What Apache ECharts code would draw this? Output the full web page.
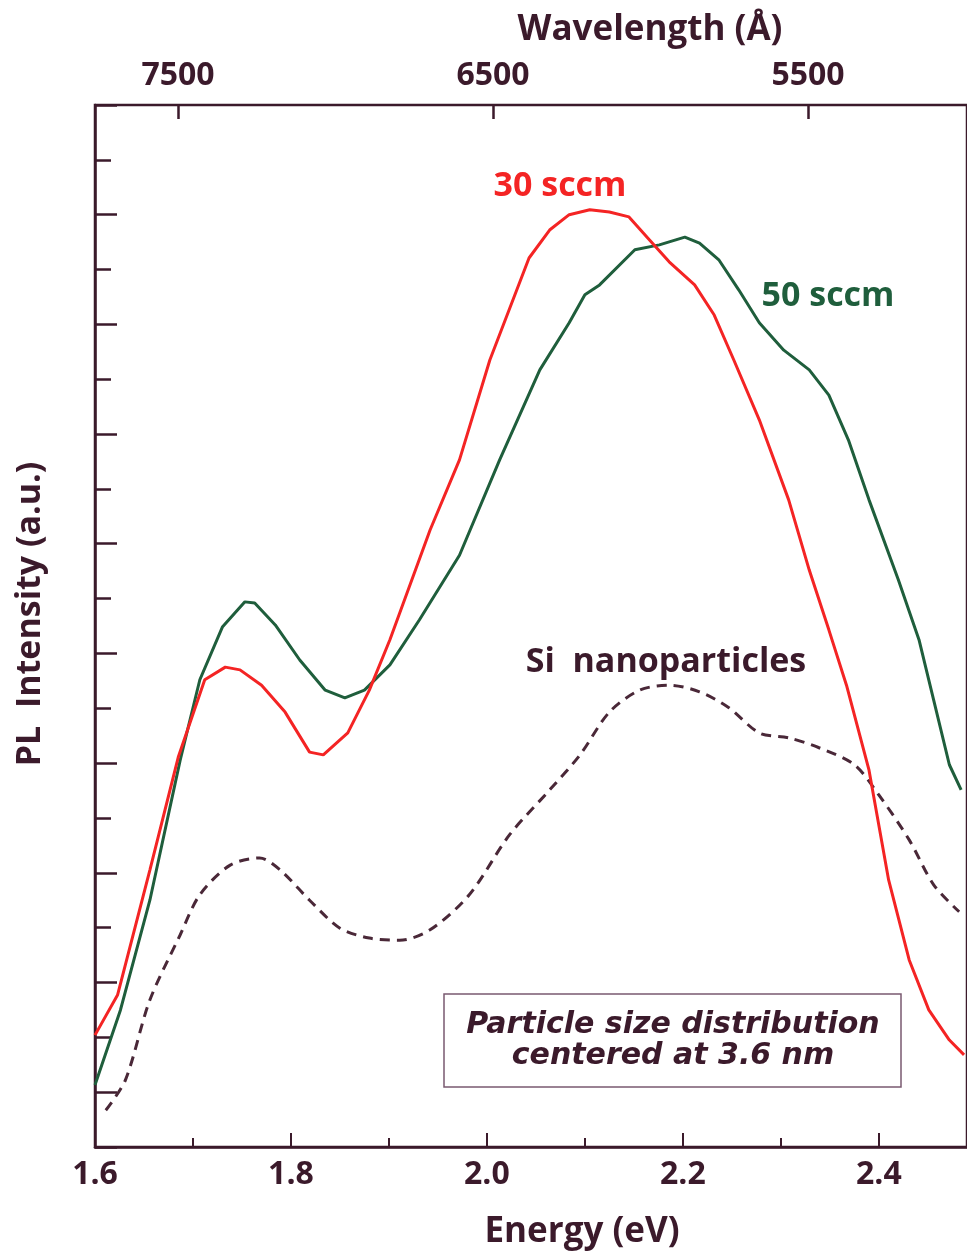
<!DOCTYPE html>
<html>
<head>
<meta charset="utf-8">
<title>PL spectra of Si nanoparticles</title>
<script src="https://cdn.jsdelivr.net/npm/echarts@6/dist/echarts.min.js"></script>
<style>
  html, body { margin: 0; padding: 0; background: #ffffff; }
  #chart { width: 967px; height: 1255px; }
</style>
</head>
<body>
<div id="chart"></div>
<script>
// Photon energy (eV) vs. PL intensity (arbitrary units)
const red30 = [
  [1.600, 2.04], [1.623, 2.77], [1.656, 5.05], [1.685, 7.11], [1.712, 8.52],
  [1.733, 8.75], [1.748, 8.70], [1.770, 8.42], [1.794, 7.93], [1.819, 7.20],
  [1.833, 7.15], [1.858, 7.55], [1.880, 8.33], [1.901, 9.25], [1.942, 11.25],
  [1.972, 12.53], [2.003, 14.35], [2.043, 16.21], [2.064, 16.72], [2.084, 17.00],
  [2.105, 17.09], [2.125, 17.05], [2.145, 16.96], [2.166, 16.54], [2.186, 16.14],
  [2.212, 15.72], [2.232, 15.17], [2.252, 14.35], [2.278, 13.26], [2.308, 11.80],
  [2.329, 10.52], [2.349, 9.43], [2.367, 8.42], [2.390, 6.87], [2.410, 4.87],
  [2.431, 3.41], [2.451, 2.50], [2.472, 1.95], [2.487, 1.68]
];
const green50 = [
  [1.600, 1.13], [1.626, 2.50], [1.656, 4.50], [1.687, 7.06], [1.707, 8.52],
  [1.730, 9.48], [1.753, 9.94], [1.763, 9.92], [1.784, 9.52], [1.809, 8.88],
  [1.835, 8.33], [1.855, 8.19], [1.875, 8.33], [1.901, 8.79], [1.931, 9.61],
  [1.972, 10.79], [2.013, 12.53], [2.054, 14.17], [2.084, 15.03], [2.100, 15.54],
  [2.115, 15.72], [2.151, 16.36], [2.176, 16.45], [2.202, 16.59], [2.217, 16.48],
  [2.237, 16.17], [2.257, 15.63], [2.278, 15.03], [2.303, 14.53], [2.329, 14.17],
  [2.349, 13.71], [2.369, 12.89], [2.390, 11.80], [2.420, 10.34], [2.441, 9.25],
  [2.456, 8.15], [2.472, 6.97], [2.484, 6.51]
];
const siNano = [
  [1.611, 0.67], [1.631, 1.22], [1.656, 2.68], [1.687, 3.87], [1.707, 4.60],
  [1.738, 5.14], [1.768, 5.27], [1.789, 5.05], [1.819, 4.50], [1.850, 3.99],
  [1.880, 3.81], [1.911, 3.77], [1.942, 3.96], [1.982, 4.60], [2.023, 5.69],
  [2.064, 6.51], [2.095, 7.15], [2.125, 7.93], [2.156, 8.33], [2.186, 8.42],
  [2.217, 8.30], [2.247, 8.01], [2.278, 7.55], [2.308, 7.46], [2.339, 7.28],
  [2.375, 6.97], [2.400, 6.42], [2.431, 5.60], [2.456, 4.78], [2.482, 4.29]
];
// Wavelength scale along the top edge
const wavelengthTicks = ['7500', '6500', '5500'];

const INK = '#3b1a2b';
const RED = '#f42424';
const GREEN = '#1f5e3c';
const FONT = '"Open Sans", "Liberation Sans", sans-serif';
const BOX_FONT = '"DejaVu Sans", Verdana, sans-serif';

const chart = echarts.init(document.getElementById('chart'), null, { renderer: 'canvas' });

chart.setOption({
  backgroundColor: '#ffffff',
  animation: false,
  grid: [
    { left: 95, top: 105, width: 874, height: 1042, show: true,
      borderColor: INK, borderWidth: 2.5, backgroundColor: 'transparent' },
    { left: 178, top: 105, width: 630, height: 1042 }
  ],
  xAxis: [
    {
      type: 'value', gridIndex: 0, position: 'bottom',
      min: 1.6, max: 2.49, interval: 0.2,
      axisLine: { show: true, onZero: false, lineStyle: { color: INK, width: 2.5 } },
      axisTick: { show: true, inside: true, length: 14, lineStyle: { color: INK, width: 2 } },
      minorTick: { show: true, splitNumber: 2, length: 9, lineStyle: { color: INK, width: 2 } },
      splitLine: { show: false },
      axisLabel: {
        show: true, margin: 12, color: INK, fontFamily: FONT, fontWeight: 'bold', fontSize: 32,
        showMaxLabel: false,
        formatter: v => v.toFixed(1)
      }
    },
    {
      type: 'category', gridIndex: 1, position: 'top',
      data: wavelengthTicks, boundaryGap: false,
      axisLine: { show: false, onZero: false },
      axisTick: { show: true, inside: true, length: 14, alignWithLabel: true, lineStyle: { color: INK, width: 2.5 } },
      axisLabel: { show: true, margin: 13, color: INK, fontFamily: FONT, fontWeight: 'bold', fontSize: 32 },
      splitLine: { show: false }
    }
  ],
  yAxis: [
    {
      type: 'value', gridIndex: 0, min: 0, max: 19, interval: 1,
      axisLine: { show: true, onZero: false, lineStyle: { color: INK, width: 2.5 } },
      axisTick: { show: true, inside: true, length: 16, lineStyle: { color: INK, width: 2.5 } },
      axisLabel: { show: false },
      splitLine: { show: false }
    },
    {
      // longer ticks on every second division, counted down from the top edge
      type: 'value', gridIndex: 0, min: 0, max: 19, interval: 2, inverse: true, position: 'left',
      axisLine: { show: false, onZero: false },
      axisTick: { show: true, inside: true, length: 22, lineStyle: { color: INK, width: 2.5 } },
      axisLabel: { show: false },
      splitLine: { show: false }
    },
    { type: 'value', gridIndex: 1, min: 0, max: 1, show: false }
  ],
  series: [
    {
      name: 'Si nanoparticles', type: 'line', xAxisIndex: 0, yAxisIndex: 0,
      data: siNano, showSymbol: false, smooth: 0.3,
      lineStyle: { color: '#4a2838', width: 3, type: [10, 7] }
    },
    {
      name: '50 sccm', type: 'line', xAxisIndex: 0, yAxisIndex: 0,
      data: green50, showSymbol: false, smooth: false,
      lineStyle: { color: GREEN, width: 3 }
    },
    {
      name: '30 sccm', type: 'line', xAxisIndex: 0, yAxisIndex: 0,
      data: red30, showSymbol: false, smooth: false,
      lineStyle: { color: RED, width: 3 }
    }
  ],
  graphic: [
    { type: 'text', x: 650, y: 30, style: { text: 'Wavelength (Å)', fill: INK, font: 'bold 35px ' + FONT, textAlign: 'center', textVerticalAlign: 'middle' } },
    { type: 'text', x: 582, y: 1232, style: { text: 'Energy (eV)', fill: INK, font: 'bold 35px ' + FONT, textAlign: 'center', textVerticalAlign: 'middle' } },
    { type: 'text', x: 30, y: 614, rotation: Math.PI / 2, style: { text: 'PL  Intensity (a.u.)', fill: INK, font: 'bold 34px ' + FONT, textAlign: 'center', textVerticalAlign: 'middle' } },
    { type: 'text', x: 560, y: 186, style: { text: '30 sccm', fill: RED, font: 'bold 34px ' + FONT, textAlign: 'center', textVerticalAlign: 'middle' } },
    { type: 'text', x: 828, y: 296, style: { text: '50 sccm', fill: GREEN, font: 'bold 34px ' + FONT, textAlign: 'center', textVerticalAlign: 'middle' } },
    { type: 'text', x: 666, y: 662, style: { text: 'Si  nanoparticles', fill: INK, font: 'bold 34px ' + FONT, textAlign: 'center', textVerticalAlign: 'middle' } },
    { type: 'rect', shape: { x: 444, y: 994, width: 457, height: 93 }, style: { fill: 'transparent', stroke: '#7a5a70', lineWidth: 1.5 } },
    { type: 'text', x: 673, y: 1025, style: { text: 'Particle size distribution', fill: INK, font: 'italic bold 30px ' + BOX_FONT, textAlign: 'center', textVerticalAlign: 'middle' } },
    { type: 'text', x: 673, y: 1056, style: { text: 'centered at 3.6 nm', fill: INK, font: 'italic bold 30px ' + BOX_FONT, textAlign: 'center', textVerticalAlign: 'middle' } }
  ]
});
</script>
</body>
</html>
